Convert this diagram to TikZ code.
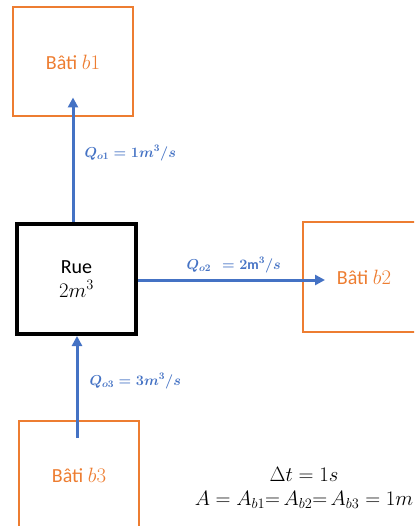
\documentclass[tikz,border=0pt]{standalone}
\usepackage{amsmath,fontspec}
\setmainfont{Carlito}
\usetikzlibrary{arrows.meta}
\definecolor{batiorange}{HTML}{ED7D31}
\definecolor{flowblue}{HTML}{4472C4}

\begin{document}
\begin{tikzpicture}[x=1pt,y=-1pt,
  bati/.style={draw=batiorange,line width=2pt,text=batiorange,
    minimum width=120pt,minimum height=109pt,font=\fontsize{20}{23}\selectfont},
  rue/.style={draw=black,line width=4pt,align=center,
    minimum width=119pt,minimum height=110pt,font=\fontsize{20}{24}\selectfont},
  flow/.style={draw=flowblue,line width=3pt,-{Triangle[length=10pt,width=10pt]}},
  qlabel/.style={text=flowblue,anchor=west,font=\fontsize{14}{16}\selectfont\boldmath},
  note/.style={font=\fontsize{20}{23}\selectfont}]
\useasboundingbox (0,0) rectangle (414,526);
\begin{scope}
\clip (0,0) rectangle (414,526);
% the buildings and the street
\node[bati] (b1) at (73,62) {Bâti $b1$};
\node[bati,minimum width=122pt] (b2) at (364,277) {Bâti $b2$};
\node[bati] (b3) at (79,475) {Bâti $b3$};
\end{scope}
\node[rue] (rue) at (76.5,279) {Rue\\$2m^3$};
% flows
\coordinate (t2) at (325,280);
\coordinate (s3) at (77,438);
\draw[flow] (b1 |- rue.north) -- ([yshift=20pt]b1.south);
\draw[flow] (rue.east |- t2) -- (t2);
\draw[flow] (s3) -- (s3 |- rue.south);
\node[qlabel] (q1) at (81,153) {$Q_{o1} = 1m^3/s$};
\node[qlabel] (q2) at (183,265) {$Q_{o2}\ \ = 2\mathrm{m}^3/s$};
\node[qlabel] (q3) at (86,381) {$Q_{o3} = 3m^3/s$};
% data
\node[note] (dt) at (304,474) {$\Delta t = 1s$};
\node[note] (area) at (304,500) {$A = A_{b1}\mathord{=}\,A_{b2}\mathord{=}\,A_{b3} = 1m$};
\end{tikzpicture}
\end{document}
